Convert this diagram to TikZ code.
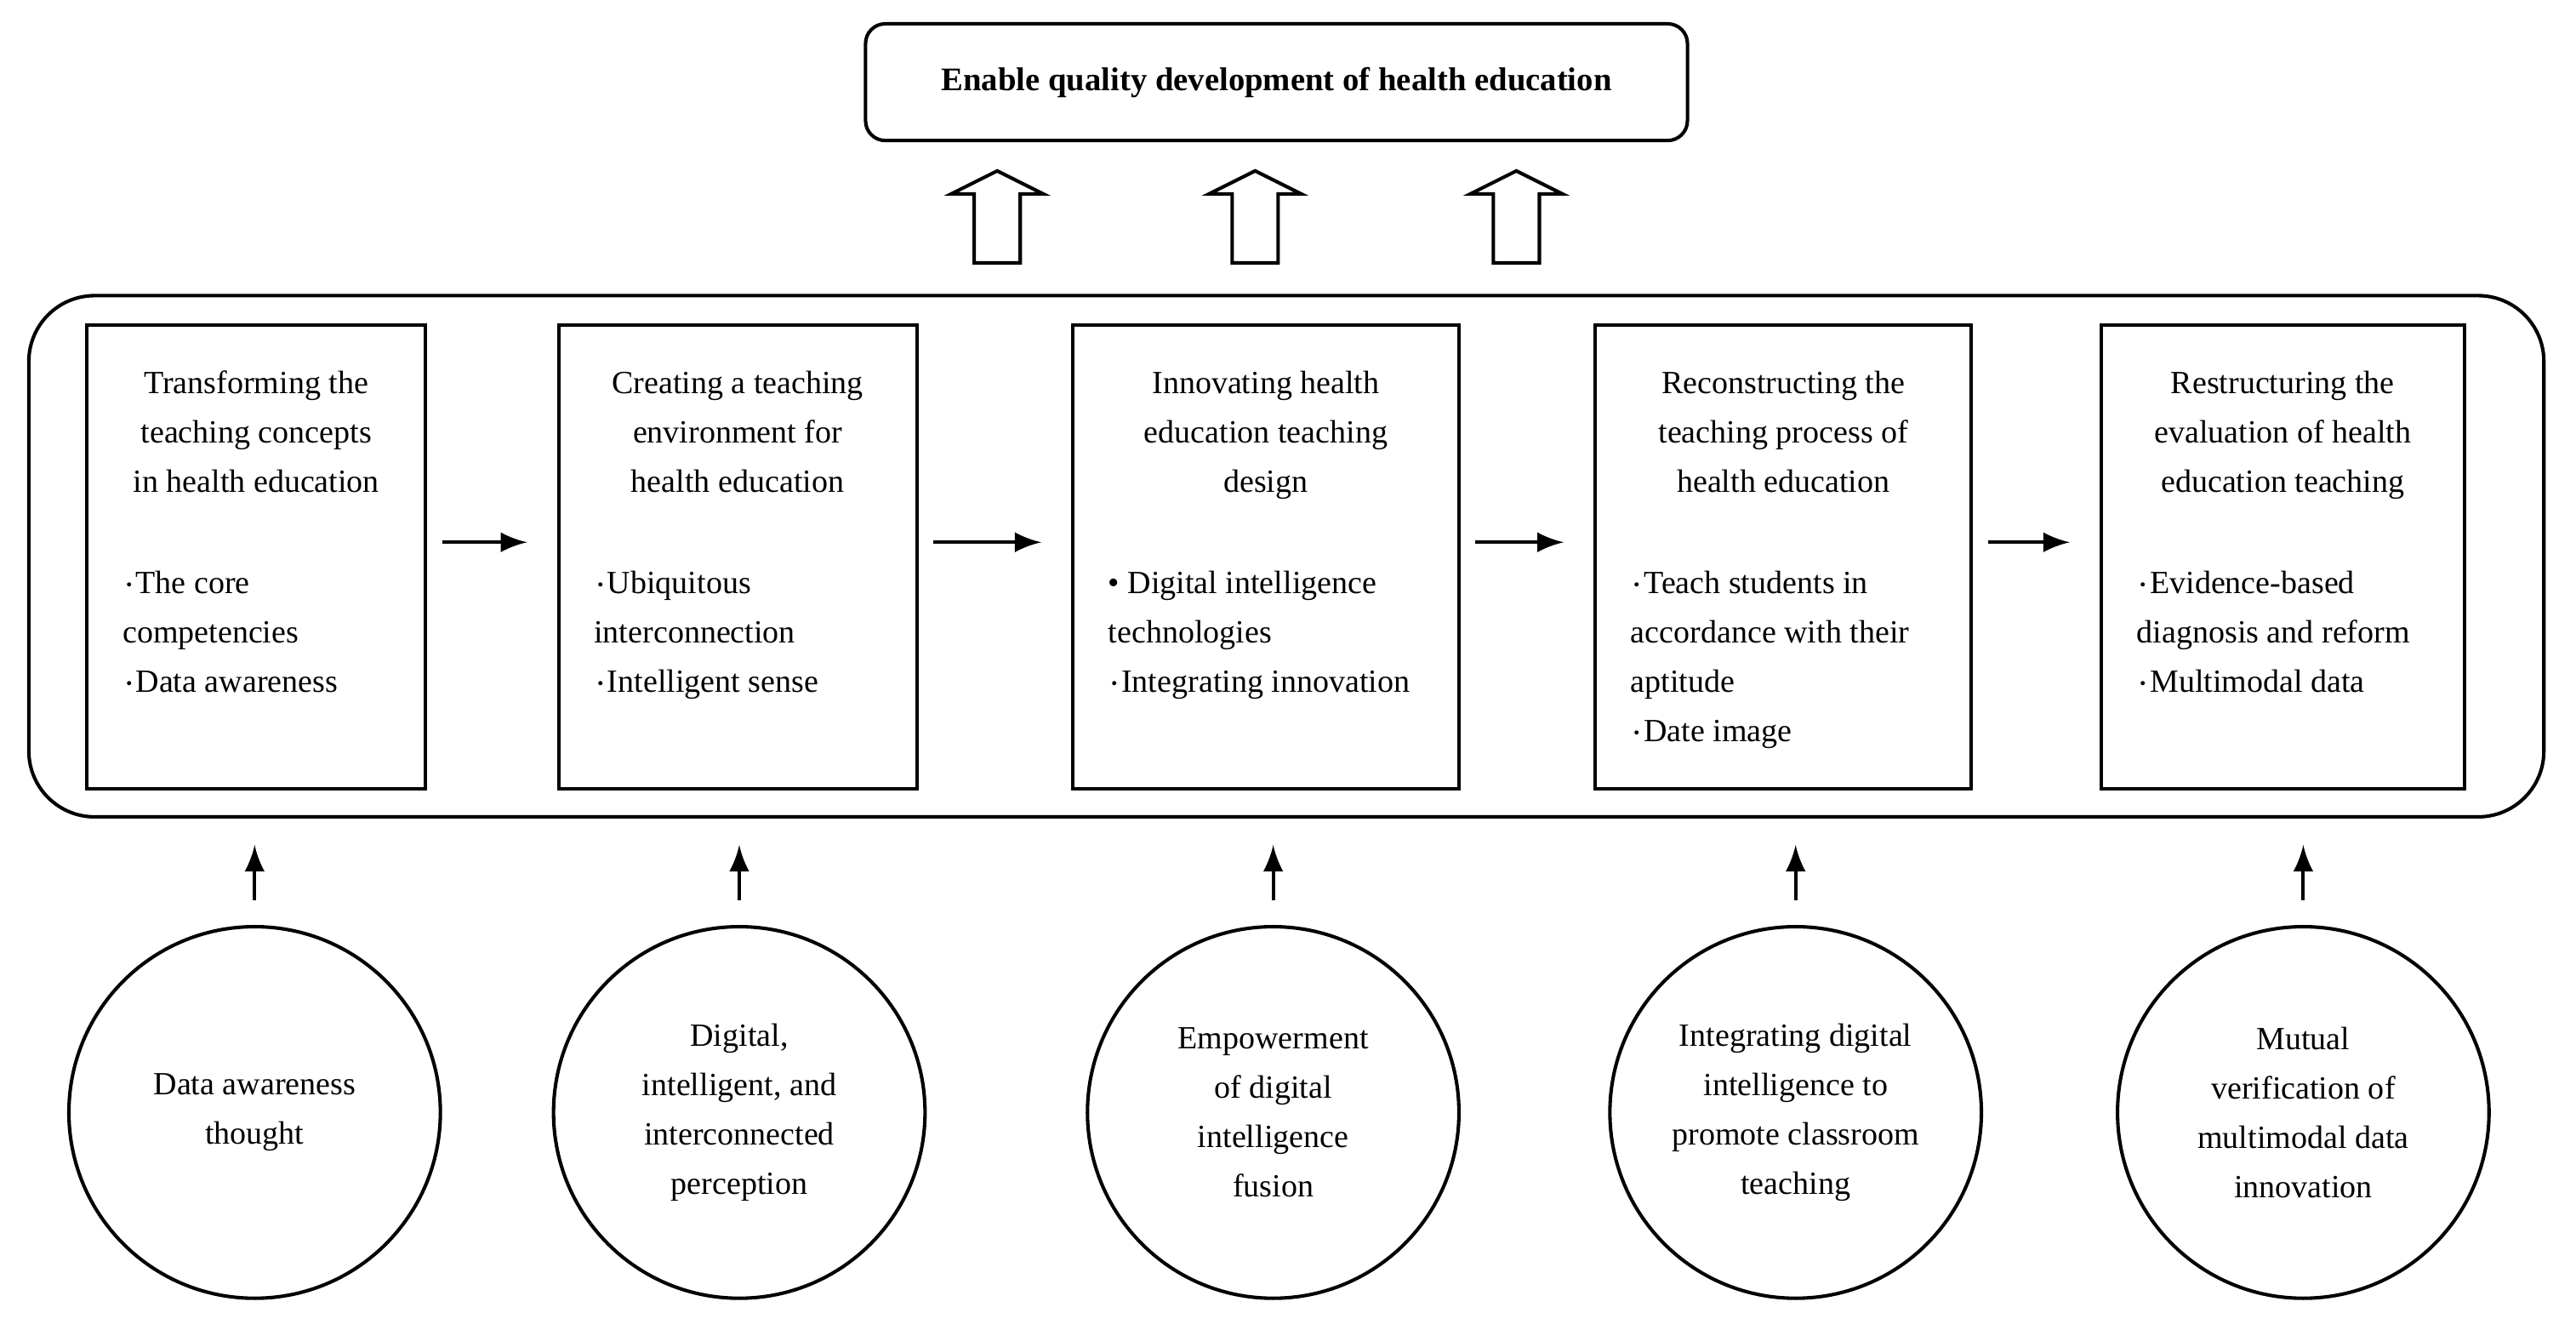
\documentclass[tikz,border=0pt]{standalone}
\usepackage{fontspec}
\setmainfont{Liberation Serif}
\usetikzlibrary{arrows,positioning}

\begin{document}
\begin{tikzpicture}[
    x=0.01cm, y=-0.01cm,
    every node/.style={font=\fontsize{5.6}{8.54}\selectfont},
    box/.style={rectangle, draw, semithick, inner sep=0pt},
    circ/.style={circle, draw, semithick, minimum size=2.26cm, align=center, inner sep=0pt},
    arr/.style={->, >=latex, semithick}
]
    \useasboundingbox (0,0) rectangle (1568,809);

    % Goal
    \node[box, rounded corners=0.12cm, minimum width=5cm, minimum height=0.71cm] (goal) at (777,50)
        {\textbf{\fontsize{5.7}{8}\selectfont Enable quality development of health education}};

    % Hollow arrows
    \foreach \x in {607,764,923} {
        \draw[semithick] (\x-14,160) -- (\x+14,160) -- (\x+14,118) -- (\x+28,118)
            -- (\x,104) -- (\x-28,118) -- (\x-14,118) -- cycle;
    }

    % Frame
    \node[box, rounded corners=0.4cm, minimum width=15.3cm, minimum height=3.17cm] (frame) at (783,338.5) {};

    % Stages
    \foreach \i/\xa/\xb/\title/\items in {
        1/53/259/{Transforming the\\teaching concepts\\in health education}/{$\cdot$The core\\competencies\\$\cdot$Data awareness},
        2/340/558/{Creating a teaching\\environment for\\health education}/{$\cdot$Ubiquitous\\interconnection\\$\cdot$Intelligent sense},
        3/653/888/{Innovating health\\education teaching\\design}/{ \textbullet\ Digital intelligence\\technologies\\$\cdot$Integrating innovation},
        4/971/1200/{Reconstructing the\\teaching process of\\health education}/{$\cdot$Teach students in\\accordance with their\\aptitude\\$\cdot$Date image},
        5/1279/1500/{Restructuring the\\evaluation of health\\education teaching}/{$\cdot$Evidence-based\\diagnosis and reform\\$\cdot$Multimodal data}} {
        \node[box, minimum width=(\xb-\xa)*0.01cm, minimum height=2.82cm] (s\i) at ({(\xa+\xb)/2},339) {};
        \node[align=center, anchor=north, inner sep=0pt] (t\i) at ([yshift=-0.28cm]s\i.north) {\title};
        \node[align=left, anchor=north west, inner sep=0pt] (b\i) at ([xshift=0.22cm,yshift=-1.5cm]s\i.north west) {\items};
    }
    \foreach \a/\b in {1/2,2/3,3/4,4/5}
        \draw[arr, shorten <=0.09cm, shorten >=0.18cm] (s\a.east |- 0,330) -- (s\b.west |- 0,330);

    % Drivers
    \foreach \i/\x/\txt in {
        1/155/{Data awareness\\thought},
        2/450/{Digital,\\intelligent, and\\interconnected\\perception},
        3/775/{Empowerment\\of digital\\intelligence\\fusion},
        4/1093/{Integrating digital\\intelligence to\\promote classroom\\teaching},
        5/1402/{Mutual\\verification of\\multimodal data\\innovation}} {
        \node[circ] (c\i) at (\x,677) {\txt};
        \draw[arr] ([yshift=0.15cm]c\i.north) -- ([yshift=-0.16cm]c\i.north |- frame.south);
    }
\end{tikzpicture}
\end{document}
